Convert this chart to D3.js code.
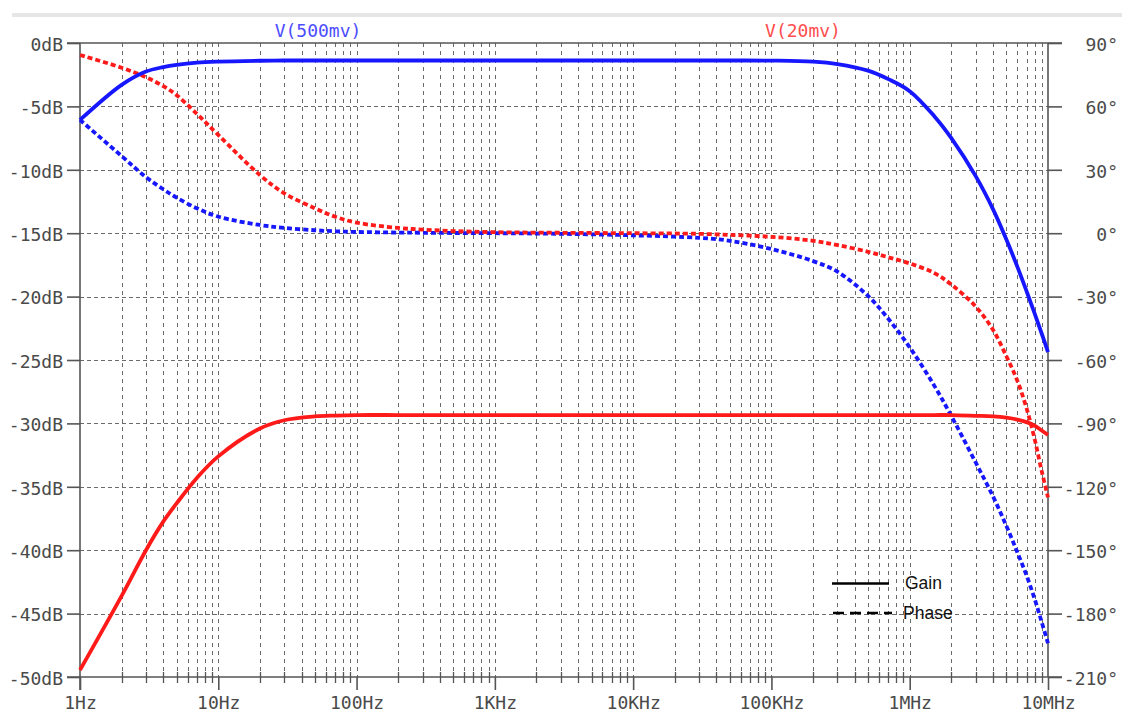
<!DOCTYPE html>
<html>
<head>
<meta charset="utf-8">
<script src="https://cdn.jsdelivr.net/npm/d3@7"></script>
<style>
  html, body { margin: 0; padding: 0; background: #fff; }
  svg { display: block; }
  .mono { font-family: "DejaVu Sans Mono", "Liberation Mono", monospace; font-size: 18px; fill: #4a4a4a; }
  .legend { font-family: "Liberation Sans", Arial, sans-serif; font-size: 17.5px; fill: #111; }
</style>
</head>
<body>
<svg id="chart" width="1122" height="713"></svg>
<script>
// Frequency sweep points (Hz)
const freqs = [1, 2, 3, 4, 5, 7, 10, 20, 30, 50, 70, 100, 200, 300, 500,
  1e3, 3e3, 1e4, 3e4, 5e4, 1e5, 2e5, 3e5, 5e5, 7e5,
  1e6, 1.5e6, 2e6, 3e6, 4e6, 5e6, 6e6, 7e6, 8e6, 9e6, 1e7];

// V(500mv) gain, dB
const gain500 = [-6.07, -3.3, -2.25, -1.9, -1.72, -1.55, -1.47, -1.40, -1.38, -1.38, -1.38, -1.38, -1.38, -1.38, -1.38,
  -1.38, -1.38, -1.38, -1.38, -1.38, -1.39, -1.47, -1.66, -2.18, -2.85,
  -3.8, -5.75, -7.5, -10.5, -13.1, -15.5, -17.64, -19.58, -21.32, -22.91, -24.38];

// V(20mv) gain, dB
const gain20 = [-49.45, -43.6, -40.0, -37.75, -36.3, -34.3, -32.6, -30.4, -29.75, -29.45, -29.38, -29.34, -29.34, -29.34, -29.34,
  -29.34, -29.34, -29.34, -29.34, -29.34, -29.34, -29.34, -29.34, -29.34, -29.34,
  -29.34, -29.34, -29.34, -29.4, -29.45, -29.55, -29.7, -29.9, -30.17, -30.56, -30.9];

// V(500mv) phase, degrees
const phase500 = [53.6, 36.5, 26.5, 20.8, 16.8, 11.8, 7.8, 3.9, 2.5, 1.4, 0.9, 0.6, 0.3, 0.2, 0.1,
  0, -0.3, -1.0, -2.2, -3.6, -7.5, -13.2, -18.2, -29.7, -40.5,
  -54, -72, -86.5, -108.5, -124.5, -138.5, -151, -162, -173, -184, -194];

// V(20mv) phase, degrees
const phase20 = [84.3, 78.3, 73.8, 69.6, 65.3, 56.5, 46.5, 27.5, 18.9, 11.8, 7.8, 5.0, 2.5, 1.7, 1.0,
  0.5, 0.2, 0, -0.3, -0.8, -1.7, -3.6, -5.6, -8.8, -11.4,
  -14.3, -18.8, -24.3, -34.7, -45.7, -58.2, -69.8, -82.9, -97.3, -112.5, -125];

// Axis tick values and labels
const decadeTicks = [1, 10, 100, 1e3, 1e4, 1e5, 1e6, 1e7];
const decadeLabels = ["1Hz", "10Hz", "100Hz", "1KHz", "10KHz", "100KHz", "1MHz", "10MHz"];
const dbTicks = [0, -5, -10, -15, -20, -25, -30, -35, -40, -45, -50];
const degTicks = [90, 60, 30, 0, -30, -60, -90, -120, -150, -180, -210];
const seriesNames = ["V(500mv)", "V(20mv)"];
const legendNames = ["Gain", "Phase"];

const blue = "#1616ff", red = "#ff1a1a";

const L = 80, R = 1048, T = 43, B = 677;
const svg = d3.select("#chart");

const x = d3.scaleLog().domain([1, 1e7]).range([L, R]);
const yDb = d3.scaleLinear().domain([-50, 0]).range([B, T]);
const yDeg = d3.scaleLinear().domain([-210, 90]).range([B, T]);

// light band across the top
svg.append("rect").attr("x", 12).attr("y", 13).attr("width", 1110).attr("height", 4).attr("fill", "#e6e6e6");

// minor + decade frequencies for grid lines
const gridFreqs = [];
for (let d = 0; d < 7; d++) for (let m = 1; m <= 9; m++) gridFreqs.push(m * Math.pow(10, d));
gridFreqs.push(1e7);

const grid = svg.append("g");
grid.selectAll("line.v").data(gridFreqs.filter(f => f > 1 && f < 1e7)).join("line")
  .attr("x1", d => Math.round(x(d)) + 0.5).attr("x2", d => Math.round(x(d)) + 0.5)
  .attr("y1", T).attr("y2", B)
  .attr("stroke", "#6a6a6a").attr("stroke-width", 1).attr("stroke-dasharray", "4,4");
grid.selectAll("line.h").data(dbTicks.filter(v => v < 0 && v > -50)).join("line")
  .attr("x1", L).attr("x2", R)
  .attr("y1", d => Math.round(yDb(d)) + 0.5).attr("y2", d => Math.round(yDb(d)) + 0.5)
  .attr("stroke", "#6a6a6a").attr("stroke-width", 1).attr("stroke-dasharray", "4,3");

// frame lines (0 dB / -50 dB span past both axes to the tick ends)
const frame = svg.append("g").attr("stroke", "#555").attr("stroke-width", 1.6);
frame.append("line").attr("x1", 67).attr("x2", 1062).attr("y1", T).attr("y2", T);
frame.append("line").attr("x1", 67).attr("x2", 1062).attr("y1", B).attr("y2", B);

// left axis (dB)
const leftAxis = svg.append("g").attr("transform", `translate(${L},0)`)
  .call(d3.axisLeft(yDb).tickValues(dbTicks).tickSize(13).tickPadding(4).tickFormat(d => `${d}dB`));
leftAxis.select(".domain").attr("stroke", "#555").attr("stroke-width", 1.6).attr("d", `M0,${T}V${B + 13}`);
leftAxis.selectAll(".tick line").attr("stroke", "#555").attr("stroke-width", 1.6);
leftAxis.selectAll("text").attr("class", "mono").attr("font-size", null).attr("font-family", null).attr("dy", "0.4em");

// right axis (degrees)
const rightAxis = svg.append("g").attr("transform", `translate(${R},0)`)
  .call(d3.axisRight(yDeg).tickValues(degTicks).tickSize(14).tickFormat(d => `${d}°`));
rightAxis.select(".domain").attr("stroke", "#555").attr("stroke-width", 1.6).attr("d", `M0,${T}V${B}`);
rightAxis.selectAll(".tick line").attr("stroke", "#555").attr("stroke-width", 1.6);
rightAxis.selectAll("text").attr("class", "mono").attr("font-size", null).attr("font-family", null)
  .attr("text-anchor", "end").attr("x", 70).attr("dy", "0.4em");

// bottom axis: decade ticks with labels, minor ticks crossing the axis
const bottomAxis = svg.append("g").attr("transform", `translate(0,${B})`)
  .call(d3.axisBottom(x).tickValues(decadeTicks).tickSize(13).tickPadding(6)
    .tickFormat((d, i) => decadeLabels[i]));
bottomAxis.select(".domain").remove();
bottomAxis.selectAll(".tick line").attr("stroke", "#555").attr("stroke-width", 1.6);
bottomAxis.selectAll("text").attr("class", "mono").attr("font-size", null).attr("font-family", null);
svg.append("g").selectAll("line").data(gridFreqs.filter(f => !decadeTicks.includes(f))).join("line")
  .attr("x1", d => Math.round(x(d)) + 0.5).attr("x2", d => Math.round(x(d)) + 0.5)
  .attr("y1", B - 5).attr("y2", B + 6)
  .attr("stroke", "#555").attr("stroke-width", 1.3);

// series titles
svg.append("text").attr("class", "mono").attr("x", 318).attr("y", 37).attr("text-anchor", "middle")
  .style("fill", "#4d4dff").text(seriesNames[0]);
svg.append("text").attr("class", "mono").attr("x", 803).attr("y", 37).attr("text-anchor", "middle")
  .style("fill", "#ff4d4d").text(seriesNames[1]);

// curves (smooth spline through the sweep points, in log-frequency space)
const smooth = d3.curveCatmullRom.alpha(0.5);
const lineDb = d3.line().x((d, i) => x(freqs[i])).y(d => yDb(d)).curve(smooth);
const lineDeg = d3.line().x((d, i) => x(freqs[i])).y(d => yDeg(d)).curve(smooth);

const curves = svg.append("g").attr("fill", "none").attr("stroke-width", 3.8);
curves.append("path").attr("d", lineDeg(phase500)).attr("stroke", blue).attr("stroke-dasharray", "5,3");
curves.append("path").attr("d", lineDeg(phase20)).attr("stroke", red).attr("stroke-dasharray", "5,3");
curves.append("path").attr("d", lineDb(gain20)).attr("stroke", red);
curves.append("path").attr("d", lineDb(gain500)).attr("stroke", blue);

// legend
const lg = svg.append("g");
lg.append("line").attr("x1", 832).attr("x2", 889).attr("y1", 583.5).attr("y2", 583.5)
  .attr("stroke", "#000").attr("stroke-width", 2.6);
lg.append("line").attr("x1", 833).attr("x2", 892).attr("y1", 613).attr("y2", 613)
  .attr("stroke", "#000").attr("stroke-width", 2.6).attr("stroke-dasharray", "11,6");
lg.append("text").attr("class", "legend").attr("x", 905).attr("y", 589).text(legendNames[0]);
lg.append("text").attr("class", "legend").attr("x", 903).attr("y", 619).text(legendNames[1]);
</script>
</body>
</html>
